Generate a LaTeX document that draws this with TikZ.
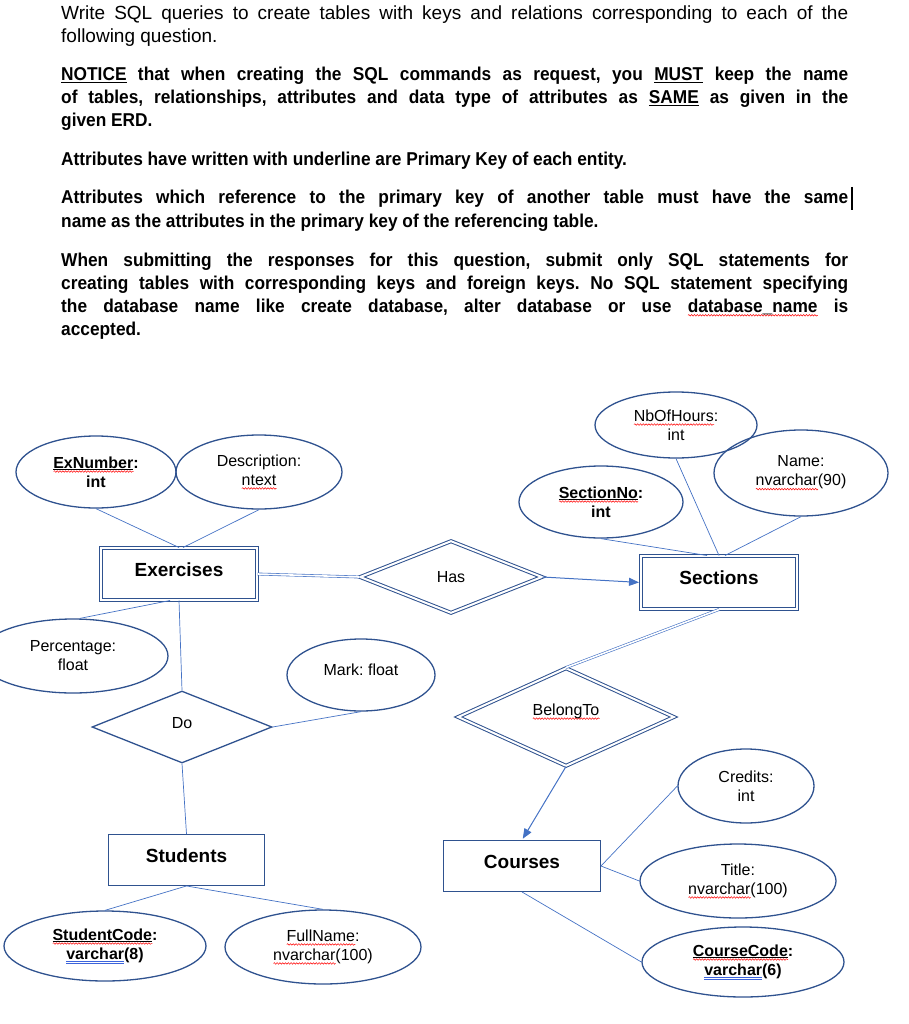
\documentclass[tikz,border=0pt]{standalone}
\usepackage{fontspec}
\setmainfont{Liberation Sans}
\newfontfamily\bodyfamb{Liberation Sans}[FakeStretch=0.93]
\usepackage{tikz}
\usetikzlibrary{arrows.meta,shapes.geometric,decorations.pathmorphing}
\frenchspacing

\definecolor{erdblue}{RGB}{47,82,143}
\definecolor{linkblue}{RGB}{68,114,196}
\definecolor{gramblue}{RGB}{60,100,220}

\newsavebox\tmpbox
\newcommand\wavefill[1]{\rlap{\tikz[baseline=0pt]\draw[red,line width=0.5pt,decorate,decoration={snake,amplitude=0.8pt,segment length=2.8pt}] (0pt,-3.3pt) -- (#1,-3.3pt);}}
\newcommand\ul[1]{\sbox\tmpbox{#1}\rlap{\rule[-2.2pt]{\wd\tmpbox}{1.2pt}}\usebox\tmpbox}
\newcommand\spellwave[1]{\sbox\tmpbox{#1}\wavefill{\wd\tmpbox}\usebox\tmpbox}
\newcommand\keywave[1]{\sbox\tmpbox{#1}\rlap{\rule[-1.6pt]{\wd\tmpbox}{0.9pt}}\wavefill{\wd\tmpbox}\usebox\tmpbox}
\newcommand\gramline[1]{\sbox\tmpbox{#1}\rlap{\textcolor{gramblue}{\rule[-2.6pt]{\wd\tmpbox}{0.5pt}}}\rlap{\textcolor{gramblue}{\rule[-4.2pt]{\wd\tmpbox}{0.5pt}}}\usebox\tmpbox}
\newcommand\jline[1]{\makebox[787pt][s]{#1}}
\newcommand\bodysize{\fontsize{19}{23}\selectfont}
\newcommand\boldbody{\bodyfamb\fontsize{18.6}{23}\selectfont\bfseries}
\newcommand\lblsize{\fontsize{16}{19}\selectfont}
\newcommand\entsize{\fontsize{19}{22}\selectfont\bfseries}

\begin{document}
\begin{tikzpicture}[x=1pt,y=-1pt,
    txt/.style={anchor=base west,inner sep=0pt,font=\bodysize},
    txtb/.style={txt,font=\boldbody},
    attr/.style={ellipse,draw=erdblue,line width=1.3pt,inner sep=0pt,align=center,font=\lblsize},
    entity/.style={rectangle,draw=erdblue,line width=1.3pt,inner sep=0pt,text depth=9pt,font=\entsize},
    weakentity/.style={entity,double,double distance=2pt,line width=1pt},
    rel/.style={diamond,draw=erdblue,line width=1.3pt,inner sep=0pt,font=\lblsize},
    weakrel/.style={rel,double,double distance=2pt,line width=1pt},
    link/.style={draw=linkblue,line width=0.7pt},
    dlink/.style={draw=linkblue,double,double distance=1.6pt,line width=0.6pt},
    tolink/.style={draw=linkblue,line width=1pt,shorten >=1.5pt,-{Triangle[length=10pt,width=8pt]}}]
    \useasboundingbox (0,0) rectangle (909,1024);

    \node[txt] (q1) at (61,20) {\jline{Write SQL queries to create tables with keys and relations corresponding to each of the}};
    \node[txt] (q2) at (61,43) {following question.};
    \node[txtb] (n1) at (61,81) {\jline{\ul{NOTICE} that when creating the SQL commands as request, you \ul{MUST} keep the name}};
    \node[txtb] (n2) at (61,104) {\jline{of tables, relationships, attributes and data type of attributes as \ul{SAME} as given in the}};
    \node[txtb] (n3) at (61,127) {given ERD.};
    \node[txtb] (u1) at (61,166) {Attributes have written with underline are Primary Key of each entity.};
    \node[txtb] (r1) at (61,204) {\jline{Attributes which reference to the primary key of another table must have the same}};
    \node[txtb] (r2) at (61,227) {name as the attributes in the primary key of the referencing table.};
    \node[txtb] (w1) at (61,266) {\jline{When submitting the responses for this question, submit only SQL statements for}};
    \node[txtb] (w2) at (61,289) {\jline{creating tables with corresponding keys and foreign keys. No SQL statement specifying}};
    \node[txtb] (w3) at (61,312) {\jline{the database name like create database, alter database or use \spellwave{database\_name} is}};
    \node[txtb] (w4) at (61,335) {accepted.};
    \draw[line width=1.3pt] (852,187) -- (852,210);

    \node[attr,minimum width=160pt,minimum height=72pt] (exnum) at (96,472) {\textbf{\keywave{ExNumber}:}\\\textbf{int}};
    \node[attr,minimum width=166pt,minimum height=74pt] (desc) at (259,472) {Description:\\\spellwave{ntext}};
    \node[attr,minimum width=162pt,minimum height=66pt] (nbh) at (676,425) {\spellwave{NbOfHours}:\\int};
    \node[attr,minimum width=174pt,minimum height=86pt] (sname) at (801,473) {Name:\\\spellwave{nvarchar}(90)};
    \node[attr,minimum width=164pt,minimum height=72pt] (secno) at (601,502) {\textbf{\keywave{SectionNo}:}\\\textbf{int}};
    \node[attr,minimum width=190pt,minimum height=74pt] (perc) at (73,656) {Percentage:\\float};
    \node[attr,minimum width=148pt,minimum height=72pt,text depth=10pt] (mark) at (361,675) {Mark: float};
    \node[attr,minimum width=202pt,minimum height=70pt] (scode) at (105,946) {\textbf{\keywave{StudentCode}:}\\\textbf{\gramline{varchar}(8)}};
    \node[attr,minimum width=196pt,minimum height=74pt] (fname) at (323,947) {\spellwave{FullName}:\\\spellwave{nvarchar}(100)};
    \node[attr,minimum width=136pt,minimum height=74pt] (cred) at (746,786) {Credits:\\int};
    \node[attr,minimum width=196pt,minimum height=74pt] (ctitle) at (738,881) {Title:\\\spellwave{nvarchar}(100)};
    \node[attr,minimum width=202pt,minimum height=70pt] (ccode) at (743,962) {\textbf{\keywave{CourseCode}:}\\\textbf{\gramline{varchar}(6)}};

    \node[weakentity,minimum width=156pt,minimum height=52pt] (exer) at (179,574) {Exercises};
    \node[weakentity,minimum width=156pt,minimum height=53pt] (sect) at (719,582.5) {Sections};
    \node[entity,minimum width=155.6pt,minimum height=50.6pt] (stud) at (186.5,860) {Students};
    \node[entity,minimum width=156.6pt,minimum height=50.6pt] (crs) at (522,866) {Courses};

    \node[weakrel,minimum width=182pt,minimum height=72pt] (has) at (451,577) {Has};
    \node[rel,minimum width=180pt,minimum height=72pt,text depth=8pt] (do) at (182,727) {Do};
    \node[weakrel,minimum width=216pt,minimum height=98pt,text depth=15pt] (belong) at (566,717) {\spellwave{BelongTo}};

    \draw[link] (exnum.south) -- (exer.north);
    \draw[link] (desc.south) -- ([xshift=4pt]exer.north);
    \draw[link] ([xshift=7pt]perc.north) -- ([xshift=-9pt]exer.south);
    \draw[link] (exer.south) -- (do.north);
    \draw[link] (do.east) -- (mark.south);
    \draw[link] (do.south) -- (stud.north);
    \draw[link] (stud.south) -- (scode.north);
    \draw[link] (stud.south) -- (fname.north);
    \draw[dlink] (exer.east) -- (has.west);
    \draw[tolink] (has.east) -- (sect.west);
    \draw[link] (secno.south) -- ([xshift=-12pt]sect.north);
    \draw[link] (nbh.south) -- (sect.north);
    \draw[link] (sname.south) -- ([xshift=6pt]sect.north);
    \draw[dlink] (sect.south) -- (belong.north);
    \draw[tolink] (belong.south) -- (crs.north);
    \draw[link] (crs.east) -- (cred.west);
    \draw[link] (crs.east) -- (ctitle.west);
    \draw[link] (crs.south) -- (ccode.west);
\end{tikzpicture}
\end{document}
